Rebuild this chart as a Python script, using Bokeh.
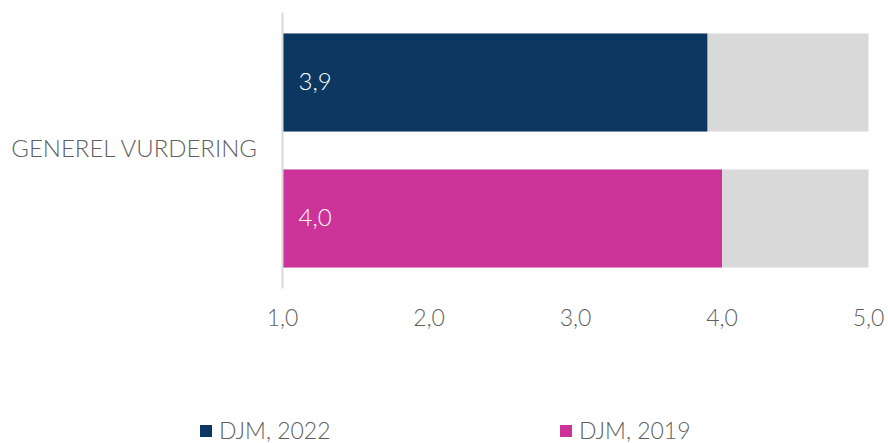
from bokeh.plotting import figure
from bokeh.models import Range1d, Legend, LegendItem, ColumnDataSource, LabelSet
from bokeh.embed import file_html
from bokeh.resources import INLINE
from bokeh.core.properties import value

category = "GENEREL VURDERING"
series = ["DJM, 2022", "DJM, 2019"]
values = [3.9, 4.0]
colors = ["#0c3761", "#cc3399"]
scale_min = 1.0
scale_max = 5.0
x_ticks = [1, 2, 3, 4, 5]
x_tick_labels = ["1,0", "2,0", "3,0", "4,0", "5,0"]

FONT = "Lato Light"
TXT = "#5f5f5f"

rows = [1.5, 0.5]          # y positions of the two bars
band = (-0.0147, 2.0147)   # vertical extent of the plotting band
tick_y = -0.239            # row where the x tick labels sit

p = figure(width=888, height=443, output_backend="svg", toolbar_location=None,
           x_range=Range1d(-0.924915, 5.136519), y_range=Range1d(-1.154412, 2.102941),
           min_border=0, x_axis_location=None, y_axis_location=None)
p.outline_line_color = None
p.grid.visible = False
p.background_fill_color = "white"
p.border_fill_color = "white"

src = ColumnDataSource(dict(y=rows, v=values, c=colors, s=series,
                            lbl=[f"{v:.1f}".replace(".", ",") for v in values],
                            lo=[scale_min] * 2, hi=[scale_max] * 2))

# background track and value bars
p.hbar(y="y", left="lo", right="hi", height=0.72, fill_color="#d9d9d9", line_color=None, source=src)
r = p.hbar(y="y", left="lo", right="v", height=0.72, fill_color="c", line_color=None, source=src)

# value axis baseline
p.segment(x0=[scale_min], x1=[scale_min], y0=[band[0]], y1=[band[1]],
          line_color="#d9d9d9", line_width=2)

# bar value labels
p.add_layout(LabelSet(x="lo", y="y", text="lbl", source=src, x_offset=16, y_offset=1,
                      text_color="white", text_font=value(FONT), text_font_size="24px",
                      text_baseline="middle"))

# x tick labels
p.text(x=x_ticks, y=[tick_y] * len(x_ticks), text=x_tick_labels, text_align="center",
       y_offset=-2, text_baseline="middle", text_font=value(FONT), text_font_size="23px",
       text_color=TXT)

# category label
p.text(x=[scale_min], y=[sum(rows) / 2], text=[category], x_offset=-24, y_offset=-3,
       text_align="right", text_baseline="middle", text_font=value(FONT),
       text_font_size="24px", text_color=TXT)

# legend
items = [LegendItem(label=series[i], renderers=[r], index=i) for i in range(2)]
leg = Legend(items=items, orientation="horizontal", location=(198, -1),
             glyph_width=15, glyph_height=15, label_standoff=6, label_width=120, spacing=219,
             padding=0, margin=0, border_line_color=None, background_fill_alpha=0,
             label_text_font=FONT, label_text_font_size="23px", label_text_color=TXT)
p.add_layout(leg, "center")

open("out.html", "w").write(file_html(p, INLINE))
